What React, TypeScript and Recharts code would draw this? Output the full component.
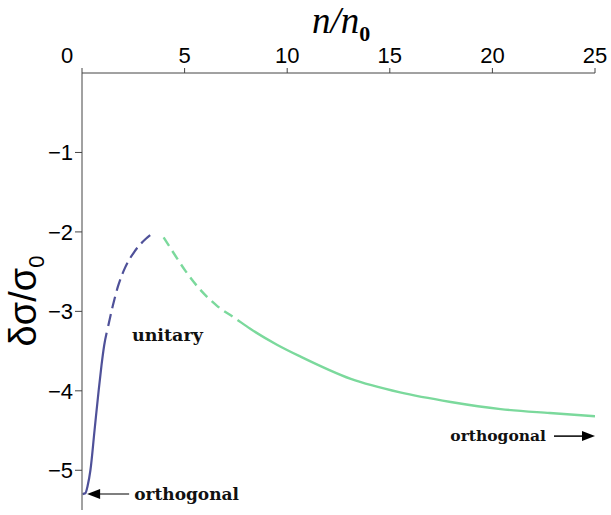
import React from "react"
import { LineChart, Line, XAxis, YAxis, ReferenceDot, Label } from "recharts"

// n/n0 and δσ/σ0
const unitaryN = [0.03, 0.16, 0.27, 0.41, 0.61, 0.81, 0.95, 1.08, 1.28, 1.51, 1.76, 2.1, 2.55, 3.1, 3.55]
const unitaryY = [-5.3, -5.29, -5.2, -5.0, -4.5, -4.0, -3.68, -3.43, -3.18, -2.92, -2.68, -2.45, -2.25, -2.09, -2.0]
const orthoN = [3.98, 4.55, 5.04, 5.77, 6.58, 7.48, 8.2, 9.5, 10.65, 13.1, 15.5, 17.97, 20.4, 22.8, 25]
const orthoY = [-2.07, -2.3, -2.49, -2.73, -2.93, -3.09, -3.22, -3.42, -3.57, -3.85, -4.02, -4.14, -4.23, -4.28, -4.32]

const xTicks = [0, 5, 10, 15, 20, 25]
const yTicks = [-5, -4, -3, -2, -1]

const toPoints = (n: number[], y: number[]) => n.map((v, i) => ({ n: v, y: y[i] }))

const purple = "#4f5199"
const green = "#7bd99c"
const sans = "'Liberation Sans', Arial, sans-serif"
const serif = "'DejaVu Serif', 'Liberation Serif', serif"

// solid first, then dashed (unitary); dashed first, then solid (orthogonal)
const repeatPairs = (dash: number, gap: number, count: number) =>
  Array.from({ length: count }, () => `${dash} ${gap}`).join(" ")
const unitaryDash = `165 7 ${repeatPairs(12, 6, 12)}`
const orthoDash = `${repeatPairs(10, 6, 7)} 3000`

const XTick = (props: any) => {
  const { x, y, payload } = props
  const dx = payload.value === 0 ? -15 : 0
  return (
    <text x={x + dx} y={y} dy={-3} textAnchor="middle" fontFamily={sans} fontSize={22} fill="#000">
      {payload.value}
    </text>
  )
}

const LeftNote = (props: any) => {
  const { cx, cy } = props
  return (
    <g>
      <line x1={cx + 10} y1={cy} x2={cx + 42} y2={cy} stroke="#555" strokeWidth={1.5} />
      <polygon points={`${cx},${cy} ${cx + 13},${cy - 5} ${cx + 13},${cy + 5}`} fill="#000" />
      <text x={cx + 47} y={cy + 6} fontFamily={serif} fontWeight="bold" fontSize={17} fill="#111">
        orthogonal
      </text>
    </g>
  )
}

const RightNote = (props: any) => {
  const { cx, cy } = props
  return (
    <g>
      <line x1={cx - 41} y1={cy} x2={cx - 10} y2={cy} stroke="#000" strokeWidth={1.5} />
      <polygon points={`${cx},${cy} ${cx - 13},${cy - 5} ${cx - 13},${cy + 5}`} fill="#000" />
      <text x={cx - 49} y={cy + 5} textAnchor="end" fontFamily={serif} fontWeight="bold" fontSize={15.5} fill="#111">
        orthogonal
      </text>
    </g>
  )
}

const UnitaryNote = (props: any) => {
  const { cx, cy } = props
  return (
    <text x={cx} y={cy} textAnchor="middle" fontFamily={serif} fontWeight="bold" fontSize={17.5} fill="#111">
      unitary
    </text>
  )
}

export default function App() {
  return (
    <div style={{ position: "absolute", left: 0, top: 0, background: "#fff" }}>
      <LineChart width={611} height={515} margin={{ top: 0, right: 16, bottom: 5, left: 0 }}>
        <XAxis
          type="number"
          dataKey="n"
          orientation="top"
          domain={[0, 25]}
          ticks={xTicks}
          height={73}
          tickSize={5}
          tick={<XTick />}
          stroke="#444"
          allowDataOverflow
        >
          <Label
            content={() => (
              <text x={312} y={33} fontFamily="'Liberation Serif', serif" fontStyle="italic" fontSize={37} fill="#000">
                n/n
                <tspan dy={8} fontSize={22} fontStyle="normal" fontWeight="bold">0</tspan>
              </text>
            )}
          />
        </XAxis>
        <YAxis
          type="number"
          dataKey="y"
          domain={[-5.5, 0]}
          ticks={yTicks}
          width={82}
          tickSize={7}
          tickLine={{ stroke: "#444" }}
          stroke="#444"
          tick={{ fontFamily: sans, fontSize: 22, fill: "#000" }}
          tickFormatter={(v: number) => (v < 0 ? `\u2212${-v}` : `${v}`)}
          allowDataOverflow
        >
          <Label
            content={() => (
              <text
                transform="translate(36,301) rotate(-90)"
                textAnchor="middle"
                fontFamily={sans}
                fontSize={38}
                fill="#000"
              >
                δσ/σ
                <tspan dy={8} fontSize={22}>0</tspan>
              </text>
            )}
          />
        </YAxis>
        <Line
          data={toPoints(unitaryN, unitaryY)}
          dataKey="y"
          type="monotone"
          stroke={purple}
          strokeWidth={2.2}
          strokeDasharray={unitaryDash}
          dot={false}
          isAnimationActive={false}
        />
        <Line
          data={toPoints(orthoN, orthoY)}
          dataKey="y"
          type="monotone"
          stroke={green}
          strokeWidth={2.4}
          strokeDasharray={orthoDash}
          dot={false}
          isAnimationActive={false}
        />
        <ReferenceDot x={0.25} y={-5.3} r={0} shape={<LeftNote />} ifOverflow="visible" />
        <ReferenceDot x={25} y={-4.57} r={0} shape={<RightNote />} ifOverflow="visible" />
        <ReferenceDot x={4.16} y={-3.37} r={0} shape={<UnitaryNote />} ifOverflow="visible" />
      </LineChart>
    </div>
  )
}
